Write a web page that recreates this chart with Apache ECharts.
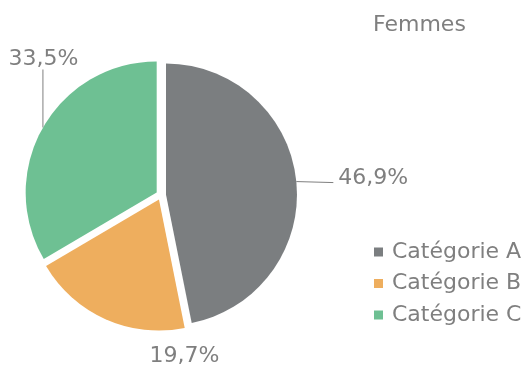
<!DOCTYPE html>
<html>
<head>
<meta charset="utf-8">
<script src="https://cdn.jsdelivr.net/npm/echarts@6/dist/echarts.min.js"></script>
<style>
  html, body { margin: 0; padding: 0; background: #ffffff; }
  #chart { width: 525px; height: 365px; }
</style>
</head>
<body>
<div id="chart"></div>
<script>
// Répartition par catégorie — Femmes (%)
const title = 'Femmes';
const categories = ['Catégorie A', 'Catégorie B', 'Catégorie C'];
const values = [46.9, 19.7, 33.5];
const colors = ['#7b7e80', '#eeae5e', '#6ec093'];

const TEXT = '#7f7f7f';
const FONT = 'DejaVu Sans';
const FS = 22;

// pie geometry
const CX = 161, CY = 195, R = 131, OFF = 5;

const fmt = v => v.toFixed(1).replace('.', ',') + '%';

const chart = echarts.init(document.getElementById('chart'), null, { renderer: 'canvas' });

// label placement for the overlay series: start from the outer edge point
// of each slice, pushed out by the explosion offset
function placeLabel(p) {
  const pts = p.labelLinePoints;
  if (!pts) return {};
  const e = pts[0];
  const ux = (e[0] - CX) / R, uy = (e[1] - CY) / R;
  const s = [e[0] + ux * OFF, e[1] + uy * OFF];
  if (p.dataIndex === 0) {
    return {
      x: s[0] + 42, y: s[1] - 3, align: 'left', verticalAlign: 'middle',
      labelLinePoints: [s, [s[0] + 37, s[1] + 1], [s[0] + 37, s[1] + 1]]
    };
  }
  if (p.dataIndex === 1) {
    return {
      x: s[0] + 79, y: s[1] + 37, align: 'center', verticalAlign: 'middle',
      labelLinePoints: [s, s, s]
    };
  }
  return {
    x: s[0] + 0.5, y: s[1] - 68, align: 'center', verticalAlign: 'middle',
    labelLinePoints: [s, [s[0], s[1] - 58], [s[0], s[1] - 58]]
  };
}

const pieBase = {
  type: 'pie',
  center: [CX, CY],
  radius: [0, R],
  startAngle: 90,
  clockwise: true,
  avoidLabelOverlap: false,
  emphasis: { scale: false, disabled: true }
};

chart.setOption({
  animation: false,
  backgroundColor: '#ffffff',
  textStyle: { fontFamily: FONT },
  title: {
    text: title,
    left: 368,
    top: 9.5,
    textStyle: { fontFamily: FONT, fontSize: FS, fontWeight: 'normal', color: TEXT }
  },
  legend: {
    orient: 'vertical',
    left: 369,
    top: 236,
    itemWidth: 9,
    itemHeight: 9,
    itemGap: 9.5,
    icon: 'rect',
    selectedMode: false,
    data: categories,
    textStyle: { fontFamily: FONT, fontSize: FS, color: TEXT, lineHeight: 22, padding: [0, 0, 0, 4] }
  },
  series: [
    // exploded slices
    Object.assign({}, pieBase, {
      selectedMode: 'multiple',
      selectedOffset: OFF,
      itemStyle: { borderWidth: 0 },
      label: { show: false },
      labelLine: { show: false },
      data: categories.map((name, i) => ({
        name: name,
        value: values[i],
        selected: true,
        itemStyle: { color: colors[i] }
      }))
    }),
    // value labels
    Object.assign({}, pieBase, {
      silent: true,
      selectedMode: false,
      itemStyle: { color: 'rgba(0,0,0,0)', borderWidth: 0 },
      label: {
        show: true,
        position: 'outside',
        overflow: 'none',
        formatter: p => fmt(p.value),
        fontFamily: FONT,
        fontSize: FS,
        color: TEXT
      },
      labelLine: {
        show: true,
        length: 2,
        length2: 35,
        lineStyle: { color: '#7f7f7f', width: 1 }
      },
      labelLayout: placeLabel,
      data: categories.map((name, i) => ({ name: name, value: values[i] }))
    })
  ]
});
</script>
</body>
</html>
